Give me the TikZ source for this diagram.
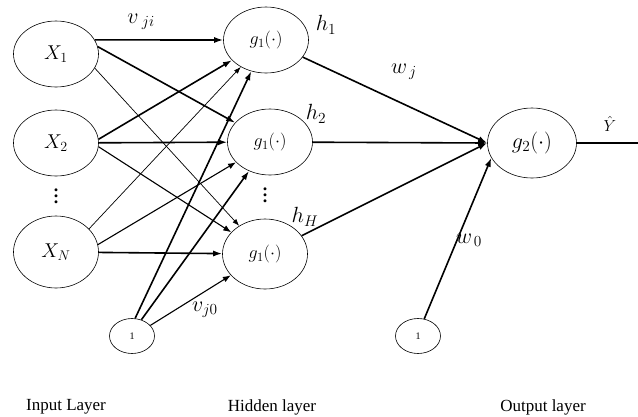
\RequirePackage{fix-cm}
\documentclass[tikz,border=0pt]{standalone}
\usepackage{fontspec}
\setmainfont{Liberation Serif}
\usepackage{tikz}
\usetikzlibrary{shapes,arrows.meta,positioning}
\newcommand{\tallvdots}{\vbox{\baselineskip=6pt\lineskiplimit=0pt\hbox{.}\hbox{.}\hbox{.}}}

\begin{document}
\begin{tikzpicture}[x=1pt,y=-1pt,
    neuron/.style={ellipse,draw,line width=0.6pt,inner sep=0pt,
      minimum width=85pt,minimum height=66pt,font=\fontsize{18}{20}\selectfont},
    biasnode/.style={ellipse,draw,line width=0.6pt,inner sep=0pt,
      minimum width=45pt,minimum height=35pt,font=\fontsize{10}{11}\selectfont},
    thk/.style={line width=1.6pt,-{Latex[length=9pt,width=6pt]}},
    mid/.style={line width=1.1pt,-{Latex[length=8pt,width=6pt]}},
    thn/.style={line width=0.7pt,-{Latex[length=7pt,width=5pt]}},
    lbl/.style={inner sep=0pt,font=\fontsize{22}{24}\selectfont},
    layer/.style={inner sep=0pt,font=\fontsize{17}{19}\selectfont},
    dotsnode/.style={inner sep=0pt,font=\fontsize{18}{18}\bfseries}]
  \useasboundingbox (0,0) rectangle (638,416);

  % input layer
  \node[neuron,font=\fontsize{20}{22}\selectfont] (X1) at (56,54) {$X_1$};
  \node[neuron,font=\fontsize{20}{22}\selectfont] (X2) at (56,143) {$X_2$};
  \node[neuron,font=\fontsize{20}{22}\selectfont,minimum height=72pt] (XN) at (56,252) {$X_N$};
  \node[dotsnode] (dotsX) at (56,196) {\tallvdots};
  \node[biasnode] (B1) at (132,336) {1};

  % hidden layer
  \node[neuron] (H1) at (266,40) {$g_1(\cdot)$};
  \node[neuron] (H2) at (270,142) {$g_1(\cdot)$};
  \node[neuron,minimum height=70pt] (H3) at (265,254) {$g_1(\cdot)$};
  \node[dotsnode] (dotsH) at (265,195) {\tallvdots};

  % output layer
  \node[neuron,minimum width=89pt,minimum height=70pt,font=\fontsize{22}{24}\selectfont] (O) at (532,143) {$g_2(\cdot)$};
  \node[biasnode] (B2) at (418,336) {1};
  \coordinate (Yend) at (638,143);

  % input -> hidden
  \draw[thk] (X1.20) -- (H1.west);
  \draw[thk] (X1.10) -- (H2);
  \draw[thn] (X1.-20) -- (H3);
  \draw[thk] (X2.5) -- (H1);
  \draw[thk] (X2) -- (H2);
  \draw[mid] (X2.-5) -- (H3);
  \draw[thn] (XN.35) -- (H1);
  \draw[mid] (XN.10) -- (H2);
  \draw[thk] (XN) -- (H3);
  \draw[thk] (B1.80) -- (H1);
  \draw[thk] (B1.60) -- (H2);
  \draw[mid] (B1.30) -- (H3);

  % hidden -> output
  \draw[thk] (H1) -- (O.west);
  \draw[thk] (H2) -- (O.west);
  \draw[thk] (H3) -- (O.west);
  \draw[thk] (B2.70) -- (O.200);
  \draw[line width=1.6pt] (O) -- (Yend);

  % weights and outputs
  \node[lbl] (vji) at (141,22) {$v_{\;ji}$};
  \node[lbl] (vj0) at (205,310) {$v_{j0}$};
  \node[lbl] (h1) at (326,25) {$h_1$};
  \node[lbl] (h2) at (316,114) {$h_2$};
  \node[lbl] (hH) at (305,217) {$h_H$};
  \node[lbl] (wj) at (404,72) {$w_{\,j}$};
  \node[lbl] (w0) at (469,240) {$w_{\,0}$};
  \node[lbl,font=\fontsize{16}{18}\selectfont] (Yhat) at (610,124) {$\hat{Y}$};

  % layer names
  \node[layer] (inlayer) at (66,407) {Input Layer};
  \node[layer] (hidlayer) at (272,407) {Hidden layer};
  \node[layer] (outlayer) at (543,407) {Output layer};
\end{tikzpicture}
\end{document}
